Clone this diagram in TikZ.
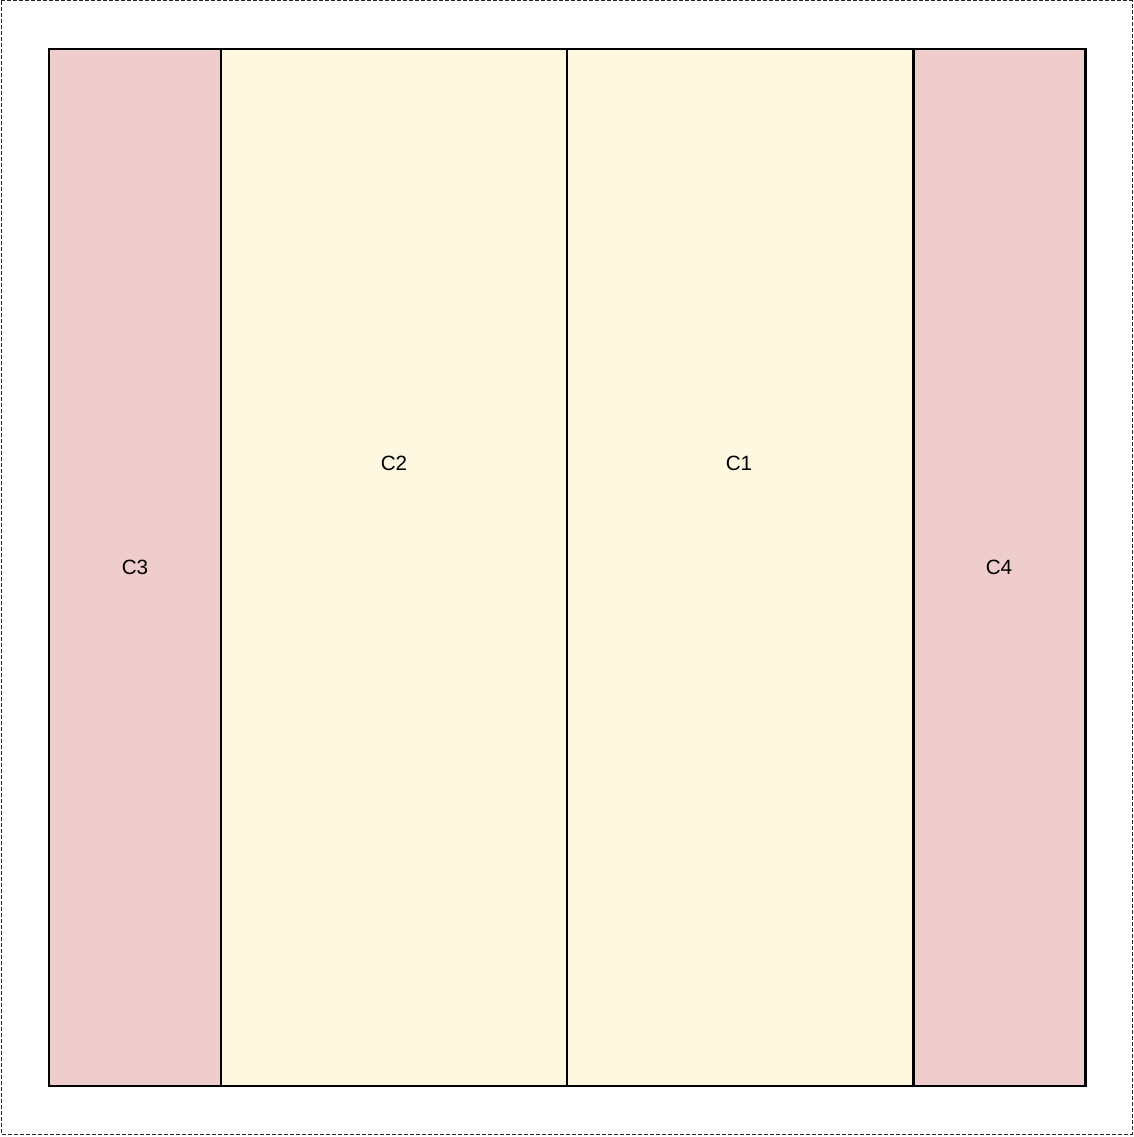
\documentclass[tikz,border=0pt]{standalone}
\usepackage{fontspec}
\setmainfont{Liberation Sans}
\definecolor{pinkfill}{HTML}{F0CDCD}
\definecolor{yellowfill}{HTML}{FEF8E0}
\begin{document}
\begin{tikzpicture}[x=0.75pt,y=-0.75pt,
  col/.style={draw=black, line width=1.6pt, rectangle, inner sep=0pt, minimum height=1037*0.75pt},
  pinkcol/.style={col, fill=pinkfill, minimum width=172*0.75pt},
  yellowcol/.style={col, fill=yellowfill, minimum width=346*0.75pt},
  lbl/.style={font=\fontsize{15.5pt}{18pt}\selectfont, inner sep=0pt}]
\useasboundingbox (0,0) rectangle (1133,1137);
\draw[dash pattern=on 3pt off 1.5pt, line width=0.75pt, black!85] (1,1) rectangle (1132,1134);
\node[pinkcol] (c3) at (135,567.5) {};
\node[lbl] (c3l) at (135,567) {C3};
\node[yellowcol] (c2) at (394,567.5) {};
\node[lbl] (c2l) at (394,463) {C2};
\node[yellowcol] (c1) at (740,567.5) {};
\node[lbl] (c1l) at (739,463) {C1};
\node[pinkcol] (c4) at (999.5,567.5) {};
\node[lbl] (c4l) at (999,567) {C4};
\end{tikzpicture}
\end{document}
